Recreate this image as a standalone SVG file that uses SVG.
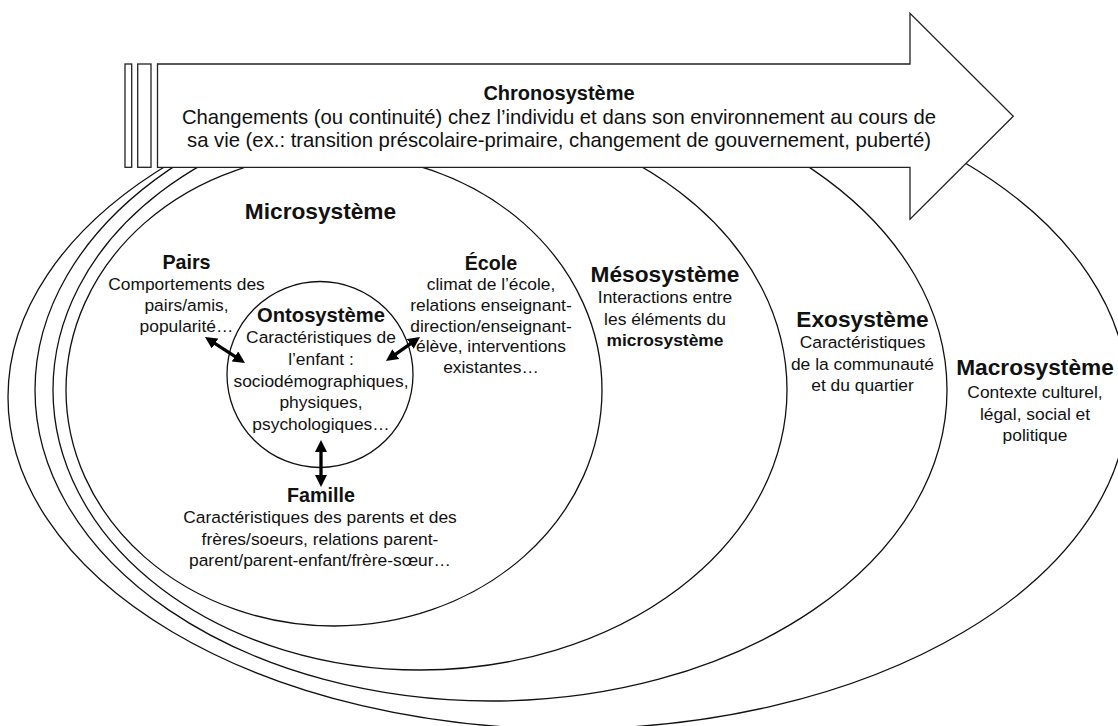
<svg xmlns="http://www.w3.org/2000/svg" width="1118" height="726" viewBox="0 0 1118 726">
<style>
  .sys { fill: #ffffff; stroke: #111111; stroke-width: 1.3; }
  .chrono { fill: #ffffff; stroke: #222222; stroke-width: 1.3; }
  text { font-family: "Liberation Sans", Arial, sans-serif; fill: #111111; text-anchor: middle; }
  .h1 { font-size: 22.7px; font-weight: bold; }
  .h2 { font-size: 19.7px; font-weight: bold; }
  .h3 { font-size: 20.2px; font-weight: bold; }
  .b { font-size: 17.4px; }
  .bb { font-size: 17.4px; font-weight: bold; }
  .ct { font-size: 20px; font-weight: bold; }
  .cb { font-size: 20.3px; }
  .link { stroke: #000000; stroke-width: 3.3; fill: none; marker-start: url(#head); marker-end: url(#head); }
</style>
<defs>
  <marker id="head" viewBox="0 0 12 12" refX="4" refY="6" markerWidth="12" markerHeight="12" markerUnits="userSpaceOnUse" orient="auto-start-reverse">
    <path d="M0,0 L12,6 L0,12 Z" fill="#000000"/>
  </marker>
</defs>
<rect width="1118" height="726" fill="#ffffff"/>

<g id="macrosysteme">
  <ellipse class="sys" cx="568" cy="397" rx="560" ry="332"/>
  <text class="h1" x="1035" y="375">Macrosystème</text>
  <text class="b" x="1035" y="398.3">Contexte culturel,</text>
  <text class="b" x="1035" y="419.8">légal, social et</text>
  <text class="b" x="1035" y="441.3">politique</text>
</g>

<g id="exosysteme">
  <ellipse class="sys" cx="491" cy="390" rx="456" ry="311"/>
  <text class="h1" x="862.5" y="326.7">Exosystème</text>
  <text class="b" x="862.5" y="348.3">Caractéristiques</text>
  <text class="b" x="862.5" y="369.8">de la communauté</text>
  <text class="b" x="862.5" y="391.3">et du quartier</text>
</g>

<g id="mesosysteme">
  <ellipse class="sys" cx="420" cy="390" rx="367" ry="280"/>
  <text class="h1" x="665" y="281.7">Mésosystème</text>
  <text class="b" x="665" y="303.3">Interactions entre</text>
  <text class="b" x="665" y="324.8">les éléments du</text>
  <text class="bb" x="665" y="346.3">microsystème</text>
</g>

<g id="microsysteme">
  <ellipse class="sys" cx="334" cy="390" rx="268" ry="236"/>
  <text class="h1" x="320.5" y="219.3">Microsystème</text>
</g>

<g id="chronosysteme">
  <rect class="chrono" x="125" y="64" width="6.7" height="103.3"/>
  <rect class="chrono" x="137.7" y="64" width="13.3" height="103.3"/>
  <polygon class="chrono" points="157.5,64 910,64 910,13.3 1013.3,116.3 910,219.3 910,167.3 157.5,167.3"/>
  <text class="ct" x="559" y="100">Chronosystème</text>
  <text class="cb" x="559" y="124">Changements (ou continuité) chez l’individu et dans son environnement au cours de</text>
  <text class="cb" x="559" y="147">sa vie (ex.: transition préscolaire-primaire, changement de gouvernement, puberté)</text>
</g>

<g id="pairs">
  <text class="h2" x="186.5" y="268.5">Pairs</text>
  <text class="b" x="186.5" y="290">Comportements des</text>
  <text class="b" x="186.5" y="311">pairs/amis,</text>
  <text class="b" x="186.5" y="332">popularité…</text>
</g>

<g id="ecole">
  <text class="h2" x="491" y="270">École</text>
  <text class="b" x="491" y="290">climat de l’école,</text>
  <text class="b" x="491" y="311">relations enseignant-</text>
  <text class="b" x="491" y="331.7">direction/enseignant-</text>
  <text class="b" x="491" y="352.3">élève, interventions</text>
  <text class="b" x="491" y="372.7">existantes…</text>
</g>

<g id="ontosysteme">
  <circle class="sys" cx="320" cy="374.5" r="93"/>
  <text class="h3" x="321" y="321.7">Ontosystème</text>
  <text class="b" x="321" y="343.3">Caractéristiques de</text>
  <text class="b" x="321" y="365">l’enfant :</text>
  <text class="b" x="321" y="386.5">sociodémographiques,</text>
  <text class="b" x="321" y="408">physiques,</text>
  <text class="b" x="321" y="429.5">psychologiques…</text>
</g>

<g id="famille">
  <text class="h2" x="321" y="501.7">Famille</text>
  <text class="b" x="320" y="523.3">Caractéristiques des parents et des</text>
  <text class="b" x="320" y="544.8">frères/soeurs, relations parent-</text>
  <text class="b" x="320" y="566.3">parent/parent-enfant/frère-sœur…</text>
</g>

<g id="connectors">
  <line class="link" x1="211.7" y1="341.4" x2="238.3" y2="358.6"/>
  <line class="link" x1="413.5" y1="341.6" x2="392.5" y2="356.4"/>
  <line class="link" x1="321" y1="448" x2="321" y2="479"/>
</g>
</svg>
